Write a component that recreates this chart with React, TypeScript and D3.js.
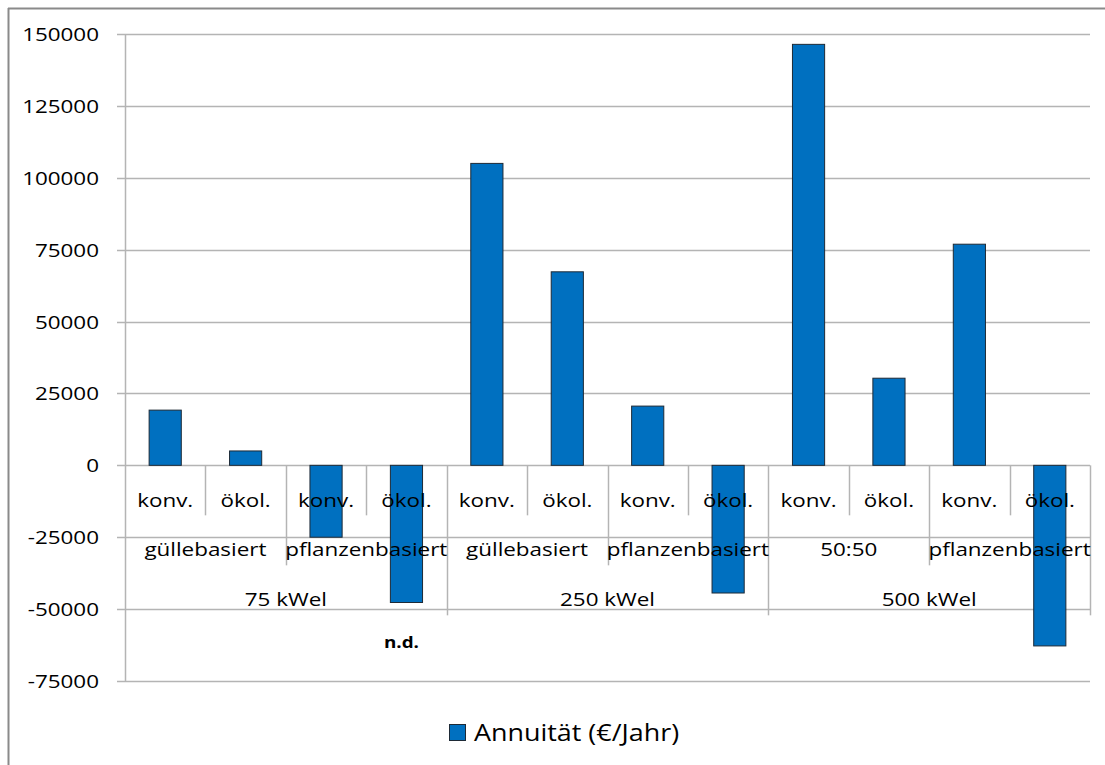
import React from 'react';
import * as d3 from 'd3';

const categories = ['konv.', 'ökol.', 'konv.', 'ökol.', 'konv.', 'ökol.', 'konv.', 'ökol.', 'konv.', 'ökol.', 'konv.', 'ökol.'];
const subGroups = ['güllebasiert', 'pflanzenbasiert', 'güllebasiert', 'pflanzenbasiert', '50:50', 'pflanzenbasiert'];
const groups = ['75 kWel', '250 kWel', '500 kWel'];
const values = [19200, 5000, -25000, -47700, 105000, 67300, 20600, -44400, 146400, 30300, 76900, -62800];
const yTicks = [150000, 125000, 100000, 75000, 50000, 25000, 0, -25000, -50000, -75000];
const seriesName = 'Annuität (€/Jahr)';
const noteLabel = 'n.d.';
const noteIndex = 3;

const W = 1105;
const H = 765;
const left = 125;
const right = 1090;
const top = 34;
const bottom = 681;
const SX = 1.18;
const FONT = '"Open Sans", sans-serif';
const GRID = '#b4b4b4';
const BAR = '#0070C0';

function T(props: { x: number; y: number; anchor?: string; size?: number; weight?: any; children: any }) {
  const { x, y, anchor = 'middle', size = 19, weight = 'normal', children } = props;
  return (
    <text
      transform={`translate(${x},${y}) scale(${SX},1)`}
      textAnchor={anchor}
      fontFamily={FONT}
      fontSize={size}
      fontWeight={weight}
      fill="#000"
    >
      {children}
    </text>
  );
}

export default function App() {
  const idx = categories.map((_, i) => String(i));
  const y = d3.scaleLinear().domain([-75000, 150000]).range([bottom, top]);
  const xCat = d3.scaleBand().domain(idx).range([left, right]).padding(0);
  const xBar = d3.scaleBand().domain(idx).range([left, right]).paddingInner(0.6).paddingOuter(0.3);
  const step = xCat.step();
  const y0 = y(0);

  const subSpan = categories.length / subGroups.length;
  const grpSpan = categories.length / groups.length;

  const boundaries = d3.range(categories.length + 1).map((i) => {
    let len = 50;
    if (i % subSpan === 0) len = 100;
    if (i % grpSpan === 0) len = 150;
    return { x: left + i * step, len, i };
  });

  return (
    <svg width={W} height={H} style={{ position: 'absolute', left: 0, top: 0, display: 'block', background: '#fff' }}>
      <rect x={0} y={0} width={W} height={H} fill="#fff" />
      {/* outer frame */}
      <line x1={8.5} y1={8} x2={8.5} y2={H} stroke="#8a8a8a" strokeWidth={2} />
      <line x1={8} y1={8.5} x2={W} y2={8.5} stroke="#8a8a8a" strokeWidth={2} />

      {/* gridlines */}
      {yTicks.map((t) => (
        <g key={t}>
          <line x1={117} x2={right} y1={Math.round(y(t)) + 0.5} y2={Math.round(y(t)) + 0.5} stroke={GRID} strokeWidth={1.5} />
          <T x={99} y={y(t) + 7} anchor="end">{t}</T>
        </g>
      ))}
      {/* y axis */}
      <line x1={left + 0.5} x2={left + 0.5} y1={top} y2={bottom} stroke={GRID} strokeWidth={1.5} />

      {/* category separators */}
      {boundaries.filter((b) => b.i > 0).map((b) => (
        <line key={b.i} x1={Math.round(b.x) + 0.5} x2={Math.round(b.x) + 0.5} y1={y0} y2={y0 + b.len} stroke={GRID} strokeWidth={1.5} />
      ))}

      {/* bars */}
      {values.map((v, i) => {
        const yy = Math.min(y(v), y0);
        const hh = Math.abs(y(v) - y0);
        return (
          <rect key={i} x={xBar(String(i))} y={yy} width={xBar.bandwidth()} height={hh} fill={BAR} stroke="#1e2a36" strokeWidth={1} />
        );
      })}

      {/* category labels */}
      {categories.map((c, i) => (
        <T key={i} x={xCat(String(i))! + step / 2} y={507}>{c}</T>
      ))}
      {subGroups.map((s, i) => (
        <T key={i} x={left + (i + 0.5) * subSpan * step} y={556}>{s}</T>
      ))}
      {groups.map((g, i) => (
        <T key={i} x={left + (i + 0.5) * grpSpan * step} y={606}>{g}</T>
      ))}
      <T x={xCat(String(noteIndex))! + step / 2 - 5} y={648} size={16} weight="bold">{noteLabel}</T>

      {/* legend */}
      <rect x={449.5} y={724.5} width={16} height={16} fill={BAR} stroke="#1e2a36" strokeWidth={1} />
      <T x={474} y={741} anchor="start" size={22.8}>{seriesName}</T>
    </svg>
  );
}
